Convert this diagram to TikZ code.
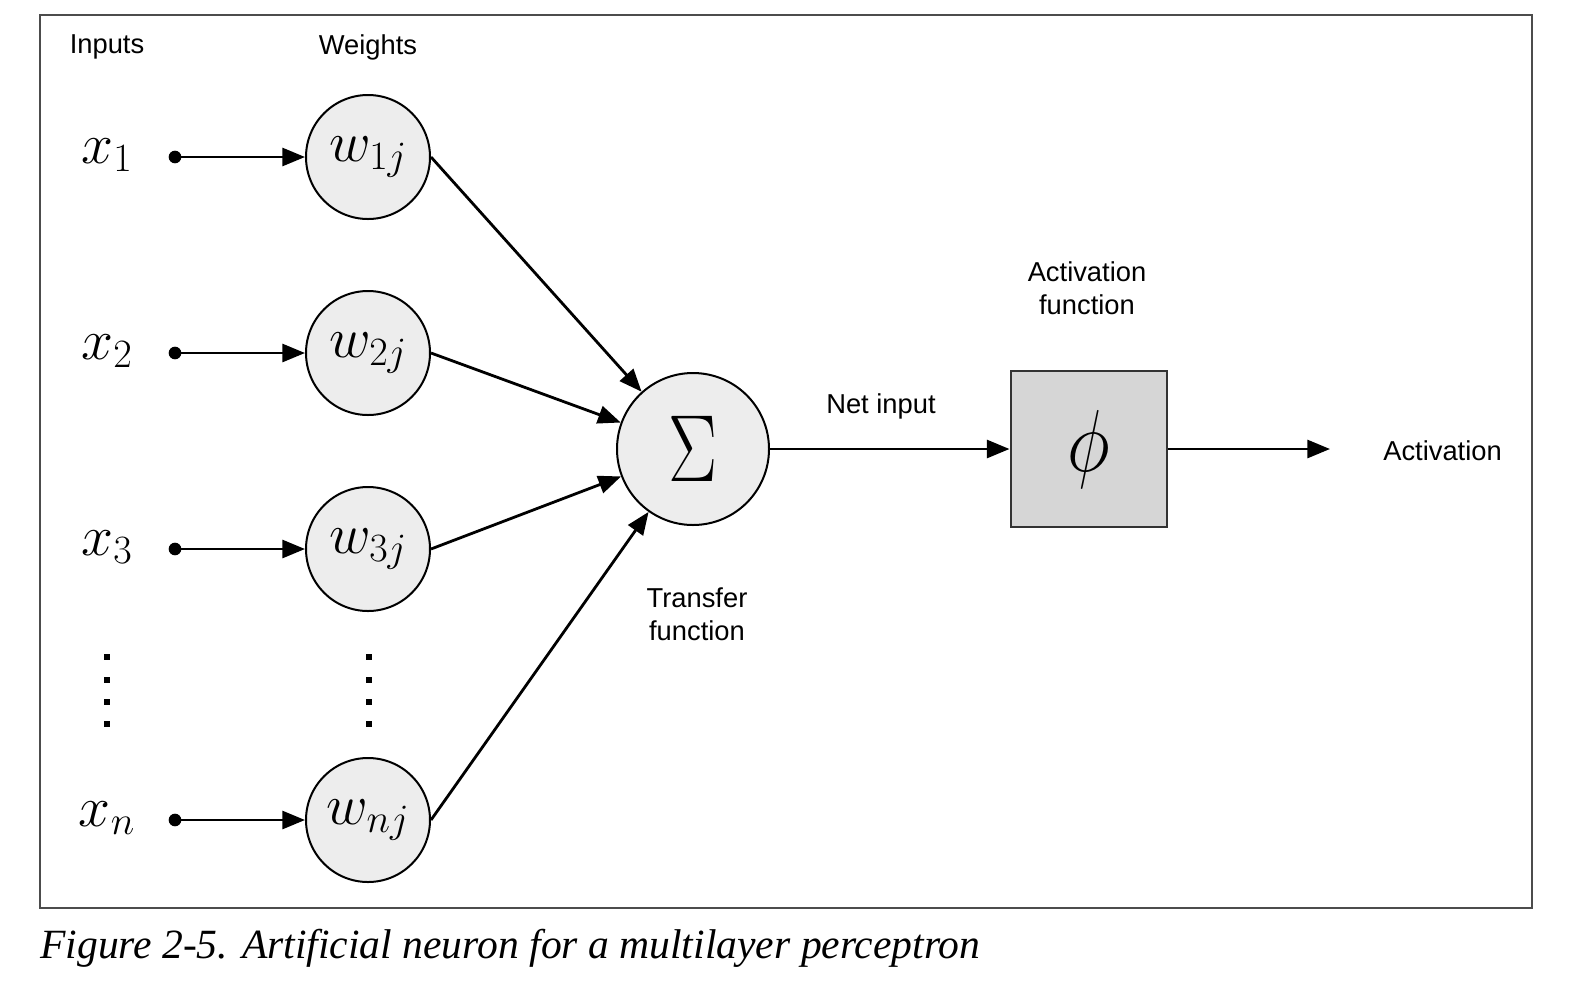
\RequirePackage{fix-cm}
\documentclass[tikz,border=0pt]{standalone}
\usepackage{fontspec}
\setsansfont{Liberation Sans}
\newfontfamily\capfont{Liberation Serif}
\usetikzlibrary{arrows.meta}
\begin{document}%
\begin{tikzpicture}[x=0.75pt,y=-0.75pt,
  lbl/.style={font=\sffamily\fontsize{20.5}{25}\selectfont, align=center, inner sep=0pt},
  mathf/.style={font=\fontsize{43}{48}\selectfont},
  wnode/.style={circle, draw=black, line width=1.5pt, fill=black!7, minimum size=93pt, inner sep=0pt, mathf},
  inp/.style={inner sep=0pt, mathf},
  dotn/.style={circle, fill=black, minimum size=9.5pt, inner sep=0pt},
  vdot/.style={fill=black, minimum size=4pt, inner sep=0pt},
  arr/.style={line width=2.1pt, -{Triangle[length=17pt,width=13.5pt]}},
]
\useasboundingbox (0,0) rectangle (1578,990);
\draw[line width=1.2pt, black!70] (40,15) rectangle (1532,908);

% headers
\node[lbl] (hin) at (107,47) {Inputs};
\node[lbl] (hw) at (368,47) {Weights};

% inputs
\node[inp] (x1) at (107,155) {$x_1$};
\node[inp] (x2) at (107,351) {$x_2$};
\node[inp] (x3) at (107,547) {$x_3$};
\node[inp] (xn) at (107,818) {$x_n$};

\node[dotn] (d1) at (175,157) {};
\node[dotn] (d2) at (175,353) {};
\node[dotn] (d3) at (175,549) {};
\node[dotn] (dn) at (175,820) {};

% weights
\node[wnode] (w1) at (368,157) {$w_{1j}$};
\node[wnode] (w2) at (368,353) {$w_{2j}$};
\node[wnode] (w3) at (368,549) {$w_{3j}$};
\node[wnode] (wn) at (368,820) {$w_{nj}$};

% vertical dots
\foreach \yy [count=\i] in {657,680,702,724} {
  \node[vdot] (va\i) at (107,\yy) {};
  \node[vdot] (vb\i) at (369,\yy) {};
}

% sum
\node[circle, draw=black, line width=1.5pt, fill=black!7, minimum size=114pt, inner sep=0pt] (sum) at (693,449)
  {\fontsize{55}{60}\selectfont\scalebox{1}[1.3]{$\Sigma$}};
\node[lbl] (tf) at (697,614) {Transfer\\function};

% activation box
\node[draw=black!80, line width=1.5pt, fill=black!16, minimum size=117pt, inner sep=0pt] (phi) at (1088.5,449)
  {\fontsize{55}{60}\selectfont\scalebox{1}[1.2]{$\phi$}};
\node[lbl] (af) at (1087,288) {Activation\\function};
\node[lbl] (ni) at (881,406) {Net input};
\node[lbl, anchor=west] (act) at (1383,451) {Activation};
\coordinate (out) at (1330,449);

% arrows
\draw[arr] (d1.center) -- (w1);
\draw[arr] (d2.center) -- (w2);
\draw[arr] (d3.center) -- (w3);
\draw[arr] (dn.center) -- (wn);
\draw[arr] (w1.east) -- (sum);
\draw[arr] (w2.east) -- (sum);
\draw[arr] (w3.east) -- (sum);
\draw[arr] (wn.east) -- (sum);
\draw[arr] (sum) -- (phi);
\draw[arr] (phi) -- (out);

% caption
\node[anchor=base west, inner sep=0pt, font=\capfont\itshape\fontsize{31.2}{36}\selectfont] (cap) at (40,958)
  {Figure 2-5. Artificial neuron for a multilayer perceptron};
\end{tikzpicture}%
\end{document}
